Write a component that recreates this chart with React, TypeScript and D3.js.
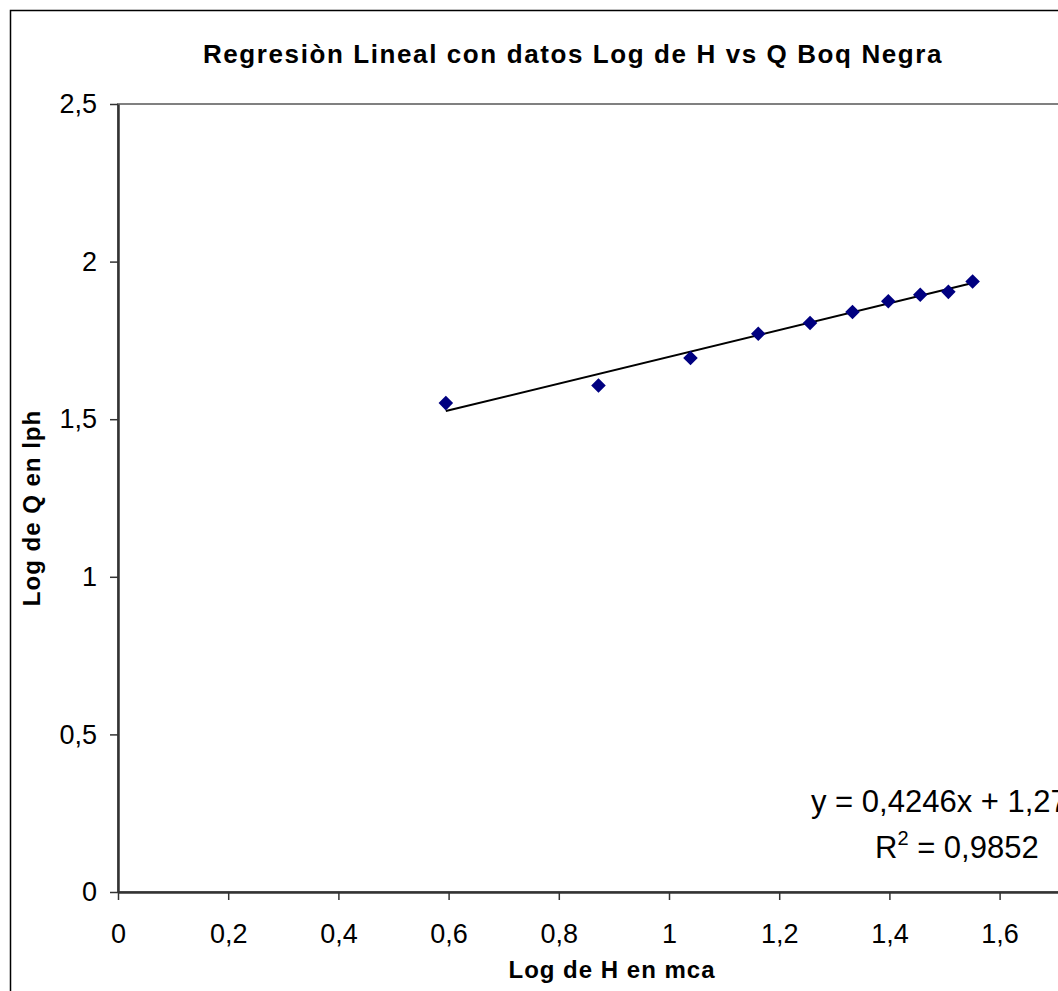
import {useEffect, useRef} from "react";
import * as d3 from "d3";

// Log H (mca) vs Log Q (lph)
const logH = [0.595, 0.872, 1.039, 1.162, 1.256, 1.333, 1.398, 1.456, 1.507, 1.551];
const logQ = [1.551, 1.607, 1.694, 1.771, 1.805, 1.840, 1.874, 1.895, 1.904, 1.937];

const xTicks = [0, 0.2, 0.4, 0.6, 0.8, 1, 1.2, 1.4, 1.6];
const yTicks = [0, 0.5, 1, 1.5, 2, 2.5];

// trendline as printed on the chart
const trendSlope = 0.4246;
const trendIntercept = 1.2733;
const equationText = "y = 0,4246x + 1,2733";
const r2Value = "0,9852";

const titleText = "Regresiòn Lineal con datos Log de H vs Q Boq Negra";
const xTitle = "Log de H en mca";
const yTitle = "Log de Q en lph";

export default function App() {

    const chartRef = useRef<SVGSVGElement>(null);

    useEffect(() => {
        if (!chartRef.current) return;

        const width = 1058;
        const height = 991;
        const marginLeft = 118;
        const marginTop = 104;
        const plotBottom = 892;
        const font = "'Liberation Sans', Arial, sans-serif";

        const svg = d3.select(chartRef.current)
            .attr("width", width)
            .attr("height", height)
            .attr("viewBox", [0, 0, width, height]);
        svg.selectAll("*").remove();

        // x axis runs to 1.8, past the right edge of the picture
        const xScale = d3.scaleLinear()
            .domain([0, 1.8])
            .range([marginLeft, marginLeft + 1.8 * 551]);

        const yScale = d3.scaleLinear()
            .domain([0, 2.5])
            .range([plotBottom, marginTop]);

        const fmt = (d: number) => d3.format("~g")(d).replace(".", ",");

        // chart area border (cut off at the right and bottom)
        svg.append("rect")
            .attr("x", 10.5)
            .attr("y", 10.5)
            .attr("width", 1200)
            .attr("height", 1100)
            .attr("fill", "white")
            .attr("stroke", "black")
            .attr("stroke-width", 1.5);

        // plot area border
        svg.append("rect")
            .attr("x", xScale(0))
            .attr("y", yScale(2.5))
            .attr("width", xScale(1.8) - xScale(0))
            .attr("height", yScale(0) - yScale(2.5))
            .attr("fill", "white")
            .attr("stroke", "#808080")
            .attr("stroke-width", 2);

        svg.append("text")
            .attr("x", 573)
            .attr("y", 63)
            .attr("text-anchor", "middle")
            .attr("font-family", font)
            .attr("font-weight", "bold")
            .attr("font-size", 26)
            .attr("letter-spacing", 1.6)
            .text(titleText);

        const xAxis = svg.append("g")
            .attr("transform", `translate(0,${plotBottom})`)
            .call(d3.axisBottom(xScale).tickValues(xTicks).tickFormat(fmt as any).tickSize(8).tickPadding(24).tickSizeOuter(0));

        const yAxis = svg.append("g")
            .attr("transform", `translate(${marginLeft},0)`)
            .call(d3.axisLeft(yScale).tickValues(yTicks).tickFormat(fmt as any).tickSize(8).tickPadding(13).tickSizeOuter(0));

        [xAxis, yAxis].forEach(ax => {
            ax.select(".domain").attr("stroke", "#333").attr("stroke-width", 2.5);
            ax.selectAll(".tick line").attr("stroke", "#333").attr("stroke-width", 1.5);
            ax.selectAll(".tick text")
                .attr("fill", "black")
                .attr("font-family", font)
                .attr("font-size", 27);
        });

        svg.append("text")
            .attr("x", 612)
            .attr("y", 978)
            .attr("text-anchor", "middle")
            .attr("font-family", font)
            .attr("font-weight", "bold")
            .attr("font-size", 24)
            .attr("letter-spacing", 1)
            .text(xTitle);

        svg.append("text")
            .attr("transform", `translate(40,508) rotate(-90)`)
            .attr("text-anchor", "middle")
            .attr("font-family", font)
            .attr("font-weight", "bold")
            .attr("font-size", 24)
            .attr("letter-spacing", 1)
            .text(yTitle);

        // linear trendline over the data range
        const [xMin, xMax] = d3.extent(logH) as [number, number];
        svg.append("line")
            .attr("x1", xScale(xMin))
            .attr("y1", yScale(trendSlope * xMin + trendIntercept))
            .attr("x2", xScale(xMax))
            .attr("y2", yScale(trendSlope * xMax + trendIntercept))
            .attr("stroke", "black")
            .attr("stroke-width", 2);

        const diamond = d3.symbol().type(d3.symbolSquare).size(106);
        svg.append("g")
            .selectAll("path")
            .data(logH.map((h, i) => [h, logQ[i]]))
            .join("path")
            .attr("d", diamond)
            .attr("fill", "#000080")
            .attr("transform", d => `translate(${xScale(d[0])},${yScale(d[1])}) rotate(45)`);

        // trendline equation + R²
        const eq = svg.append("g")
            .attr("font-family", font)
            .attr("font-size", 31)
            .attr("fill", "black");
        eq.append("text")
            .attr("x", 811)
            .attr("y", 812)
            .text(equationText);
        const r2 = eq.append("text")
            .attr("x", 875)
            .attr("y", 858);
        r2.append("tspan").text("R");
        r2.append("tspan").attr("font-size", 20).attr("dy", -13).text("2");
        r2.append("tspan").attr("dy", 13).text(" = " + r2Value);

    }, []);

    return (
        <svg ref={chartRef} style={{position: "absolute", left: 0, top: 0}}/>
    );
}
